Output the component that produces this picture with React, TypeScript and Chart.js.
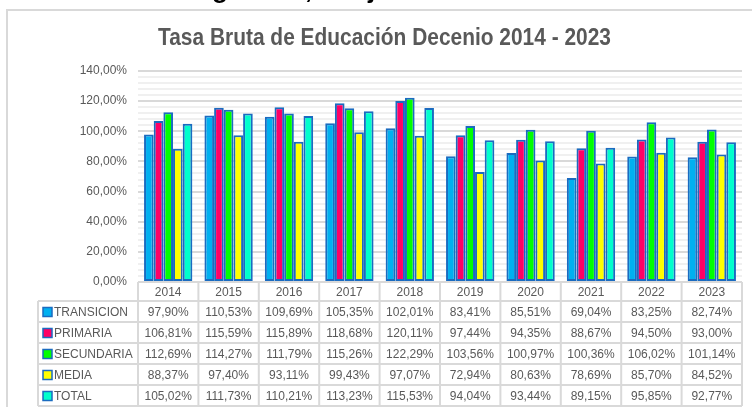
import React, { useEffect, useRef } from "react";
import { Chart, registerables } from "chart.js";

Chart.register(...registerables);

const years = ["2014", "2015", "2016", "2017", "2018", "2019", "2020", "2021", "2022", "2023"];
const seriesNames = ["TRANSICION", "PRIMARIA", "SECUNDARIA", "MEDIA", "TOTAL"];
const transicion = [97.9, 110.53, 109.69, 105.35, 102.01, 83.41, 85.51, 69.04, 83.25, 82.74];
const primaria = [106.81, 115.59, 115.89, 118.68, 120.11, 97.44, 94.35, 88.67, 94.5, 93.0];
const secundaria = [112.69, 114.27, 111.79, 115.26, 122.29, 103.56, 100.97, 100.36, 106.02, 101.14];
const media = [88.37, 97.4, 93.11, 99.43, 97.07, 72.94, 80.63, 78.69, 85.7, 84.52];
const total = [105.02, 111.73, 110.21, 113.23, 115.53, 94.04, 93.44, 89.15, 95.85, 92.77];
const seriesColors = ["#00B0F0", "#FF0066", "#00FF00", "#FFFF00", "#00FFCC"];
const titleText = "Tasa Bruta de Educación Decenio 2014 - 2023";
const headingFragments = ["g", ",", "j"];

const allSeries = [transicion, primaria, secundaria, media, total];
const BORDER = "#1A6BC0";
const GRID = "#D9D9D9";
const TEXT = "#595959";
const FONT = "'Liberation Sans', Arial, sans-serif";

const fmt = (v: number) => v.toFixed(2).replace(".", ",") + "%";

const decorPlugin = {
  id: "decor",
  beforeDraw(chart: any) {
    const ctx = chart.ctx;
    ctx.save();
    ctx.strokeStyle = GRID;
    ctx.lineWidth = 2;
    ctx.beginPath();
    ctx.moveTo(7, 420);
    ctx.lineTo(7, 10);
    ctx.lineTo(760, 10);
    ctx.stroke();
    ctx.fillStyle = "#000";
    ctx.font = `bold 26px ${FONT}`;
    ctx.textBaseline = "alphabetic";
    const fx = [212, 305, 368];
    headingFragments.forEach((t, i) => ctx.fillText(t, fx[i], -2));
    ctx.fillStyle = TEXT;
    ctx.font = `bold 23px ${FONT}`;
    const w = ctx.measureText(titleText).width;
    const sx = 453 / w;
    ctx.translate(384.5, 45);
    ctx.scale(sx, 1);
    ctx.textAlign = "center";
    ctx.fillText(titleText, 0, 0);
    ctx.restore();
  },
  afterDraw(chart: any) {
    const ctx = chart.ctx;
    const area = chart.chartArea;
    const xs = chart.scales.x;
    const n = years.length;
    const cw = (area.right - area.left) / n;
    const top = area.bottom;
    const headerH = 19;
    const rowH = 21;
    const tableLeft = 38;
    const rowsTop = top + headerH;
    const bottom = rowsTop + rowH * seriesNames.length;
    ctx.save();
    ctx.strokeStyle = GRID;
    ctx.lineWidth = 2;
    ctx.beginPath();
    ctx.moveTo(area.left, top);
    ctx.lineTo(area.right, top);
    for (let r = 0; r <= seriesNames.length; r++) {
      const y = rowsTop + r * rowH;
      ctx.moveTo(tableLeft, y);
      ctx.lineTo(area.right, y);
    }
    ctx.moveTo(tableLeft, rowsTop);
    ctx.lineTo(tableLeft, bottom);
    for (let i = 0; i <= n; i++) {
      const x = area.left + i * cw;
      ctx.moveTo(x, top);
      ctx.lineTo(x, bottom);
    }
    ctx.stroke();

    ctx.font = `12px ${FONT}`;
    ctx.fillStyle = TEXT;
    ctx.textAlign = "center";
    ctx.textBaseline = "middle";
    years.forEach((yr, i) => {
      const cx = xs.getPixelForValue(i);
      ctx.fillText(yr, cx, top + headerH / 2 + 1);
    });
    seriesNames.forEach((name, r) => {
      const cy = rowsTop + r * rowH + rowH / 2 + 1;
      ctx.fillStyle = seriesColors[r];
      ctx.fillRect(43, cy - 5, 9, 9);
      ctx.strokeStyle = BORDER;
      ctx.lineWidth = 1.5;
      ctx.strokeRect(43, cy - 5, 9, 9);
      ctx.fillStyle = TEXT;
      ctx.textAlign = "left";
      ctx.fillText(name, 54, cy);
      ctx.textAlign = "center";
      allSeries[r].forEach((v, i) => {
        ctx.fillText(fmt(v), xs.getPixelForValue(i), cy);
      });
    });
    ctx.restore();
  },
};

export default function App() {
  const ref = useRef<HTMLCanvasElement>(null);
  useEffect(() => {
    if (!ref.current) return;
    const chart = new Chart(ref.current, {
      type: "bar",
      data: {
        labels: years,
        datasets: seriesNames.map((name, i) => ({
          label: name,
          data: allSeries[i],
          backgroundColor: seriesColors[i],
          borderColor: BORDER,
          borderWidth: 2,
          borderSkipped: false,
          inflateAmount: 0,
          categoryPercentage: 0.8,
          barPercentage: 1.0,
        })),
      },
      options: {
        animation: false,
        responsive: false,
        devicePixelRatio: 1,
        datasets: { bar: { categoryPercentage: 0.8, barPercentage: 1.0 } },
        layout: { padding: { left: 0, right: 10, top: 71, bottom: 125 } },
        plugins: {
          legend: { display: false },
          title: { display: false },
          tooltip: { enabled: false },
        },
        scales: {
          x: { display: false },
          y: {
            min: 0,
            max: 140,
            afterFit(scale: any) {
              scale.width = 138;
            },
            border: { display: false },
            grid: {
              drawTicks: false,
              lineWidth: 2,
              color: (c: any) => (c.tick && Math.round(c.tick.value) % 20 === 0 ? GRID : "#F0F0F0"),
            },
            ticks: {
              stepSize: 4,
              autoSkip: false,
              padding: 11,
              color: TEXT,
              font: { family: FONT, size: 12 },
              callback: (v: any) => (Math.round(Number(v)) % 20 === 0 ? fmt(Number(v)) : ""),
            },
          },
        },
      },
      plugins: [decorPlugin],
    });
    return () => chart.destroy();
  }, []);
  return (
    <div style={{ position: "fixed", left: 0, top: 0, width: 752, height: 407, background: "#fff" }}>
      <canvas ref={ref} width={752} height={407} />
    </div>
  );
}
